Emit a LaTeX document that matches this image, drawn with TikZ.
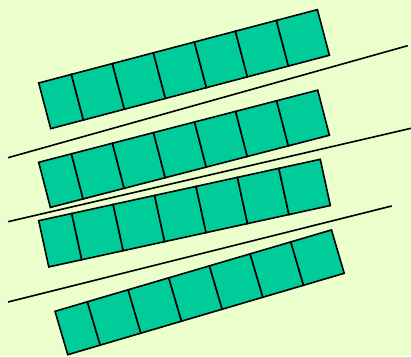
\documentclass[tikz,border=0pt]{standalone}
\definecolor{fondo}{RGB}{235,255,205}
\definecolor{verde}{RGB}{0,204,153}

\begin{document}
\begin{tikzpicture}[x=1pt,y=-1pt,line width=1.6pt] % unidades en pixeles

    % Fondo
    \fill[fondo] (0,0) rectangle (411,356);
    \useasboundingbox (0,0) rectangle (411,356);

    % Tiras de siete casillas (esquina, giro, alto); la primera casilla es mas estrecha
    \foreach \px/\py/\ang/\alto in {38.7/83/14.75/47.2, 38.7/162.3/14.5/46.6,
                                    38.7/220.7/12.3/47.3, 55/311.3/16.4/45.2}{
        \begin{scope}[shift={(\px,\py)},rotate=\ang]
            \draw[fill=verde] (0,0) rectangle (33.8,\alto);
            \foreach \i in {0,...,5}
                \draw[fill=verde] (33.8+42.4*\i,0) rectangle (33.8+42.4*\i+42.4,\alto);
        \end{scope}
    }

    % Rectas entre las tiras
    \draw (8,157.7) -- (407.7,45.7);
    \draw (8,221.7) -- (411,128.3);
    \draw (8,302) -- (391.7,206);
\end{tikzpicture}
\end{document}
